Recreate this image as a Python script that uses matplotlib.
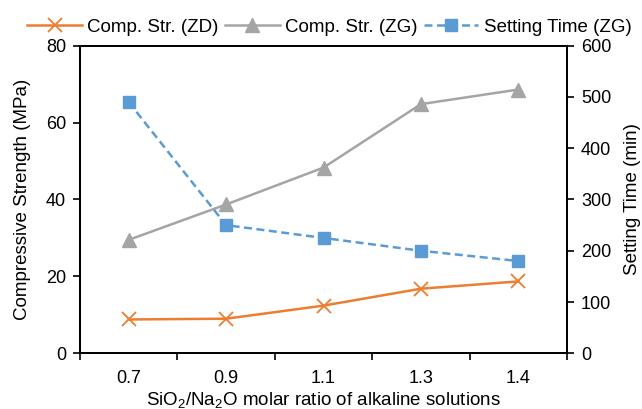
import matplotlib
matplotlib.use("Agg")
import matplotlib.pyplot as plt
import numpy as np

plt.rcParams['font.family'] = ['Liberation Sans', 'DejaVu Sans']
plt.rcParams['mathtext.fontset'] = 'custom'
plt.rcParams['mathtext.rm'] = 'Liberation Sans'
plt.rcParams['mathtext.it'] = 'Liberation Sans:italic'

categories = ['0.7', '0.9', '1.1', '1.3', '1.4']
zd_strength = [8.8, 9.0, 12.4, 16.8, 18.7]
zg_strength = [29.5, 38.7, 48.3, 64.8, 68.6]
zg_setting = [490, 250, 225, 200, 180]

c_orange = '#ED7D31'
c_gray = '#A5A5A5'
c_blue = '#5B9BD5'

fig = plt.figure(figsize=(6.42, 4.09), dpi=100)
ax = fig.add_axes([80/642, 1-353.3/409, (567-80)/642, (353.3-45.7)/409])
ax2 = ax.twinx()

x = np.arange(len(categories))
l1, = ax.plot(x, zd_strength, color=c_orange, lw=1.8, marker='x', ms=10, mew=1.3, label='Comp. Str. (ZD)')
l2, = ax.plot(x, zg_strength, color=c_gray, lw=1.8, marker='^', ms=10.5, label='Comp. Str. (ZG)')
l3, = ax2.plot(x, zg_setting, color=c_blue, lw=1.8, ls=(0, (3.2, 1.8)), marker='s', ms=8, label='Setting Time (ZG)')

ax.set_xlim(-0.5, len(categories) - 0.5)
ax.set_ylim(0, 80)
ax.set_yticks([0, 20, 40, 60, 80])
ax2.set_ylim(0, 600)
ax2.set_yticks([0, 100, 200, 300, 400, 500, 600])

fs = 13
ax.set_xticks(np.arange(-0.5, len(categories)), labels=[''] * (len(categories) + 1))
ax.set_xticks(x, labels=categories, minor=True)
ax.tick_params(axis='x', which='minor', length=0, pad=12, labelsize=fs)
ax.tick_params(axis='x', which='major', length=5, width=1.2, direction='out')
ax.tick_params(axis='y', length=5, width=1.2, direction='out', labelsize=fs, pad=5)
ax2.tick_params(axis='y', length=5, width=1.2, direction='out', labelsize=fs, pad=5)

for a in (ax, ax2):
    for s in a.spines.values():
        s.set_linewidth(1.3)
        s.set_color('black')

ax.set_ylabel('Compressive Strength (MPa)', fontsize=13.5, labelpad=11)
ax2.set_ylabel('Setting Time (min)', fontsize=13.5, labelpad=9)
ax.set_xlabel(r'SiO$_2$/Na$_2$O molar ratio of alkaline solutions', fontsize=13.5, labelpad=2)

fig.legend(handles=[l1, l2, l3], loc='center', bbox_to_anchor=(0.513, 0.934), ncol=3,
           frameon=False, fontsize=13.5, handlelength=2.9, handletextpad=0.27, columnspacing=0.37)

fig.savefig('out.png', dpi=100)
